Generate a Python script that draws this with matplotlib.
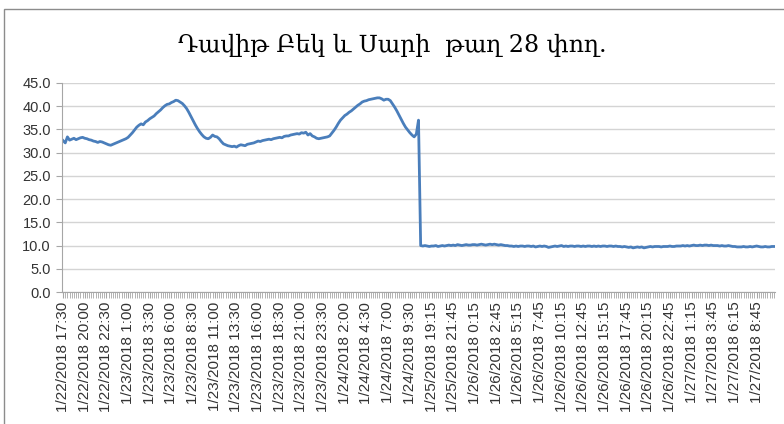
import matplotlib
matplotlib.use("Agg")
import matplotlib.pyplot as plt
from matplotlib.patches import Rectangle
import numpy as np

title = "Դավիթ Բեկ և Սարի  թաղ 28 փող."

tick_labels = [
    "1/22/2018 17:30", "1/22/2018 20:00", "1/22/2018 22:30", "1/23/2018 1:00",
    "1/23/2018 3:30", "1/23/2018 6:00", "1/23/2018 8:30", "1/23/2018 11:00",
    "1/23/2018 13:30", "1/23/2018 16:00", "1/23/2018 18:30", "1/23/2018 21:00",
    "1/23/2018 23:30", "1/24/2018 2:00", "1/24/2018 4:30", "1/24/2018 7:00",
    "1/24/2018 9:30", "1/25/2018 19:15", "1/25/2018 21:45", "1/26/2018 0:15",
    "1/26/2018 2:45", "1/26/2018 5:15", "1/26/2018 7:45", "1/26/2018 10:15",
    "1/26/2018 12:45", "1/26/2018 15:15", "1/26/2018 17:45", "1/26/2018 20:15",
    "1/26/2018 22:45", "1/27/2018 1:15", "1/27/2018 3:45", "1/27/2018 6:15",
    "1/27/2018 8:45",
]
label_every = 10

# first period (before the drop), one reading per 15 minutes
values_before = [
    32.6, 32.1, 33.4, 32.7, 32.9, 33.1, 32.8, 33.0, 33.2, 33.3,
    33.1, 33.0, 32.8, 32.7, 32.5, 32.4, 32.2, 32.4, 32.3, 32.1,
    31.9, 31.7, 31.6, 31.8, 32.0, 32.2, 32.4, 32.6, 32.8, 33.0,
    33.3, 33.8, 34.3, 34.9, 35.5, 35.9, 36.2, 36.0, 36.6, 36.9,
    37.3, 37.6, 37.9, 38.4, 38.8, 39.2, 39.7, 40.1, 40.4, 40.5,
    40.8, 41.0, 41.3, 41.2, 40.9, 40.6, 40.1, 39.5, 38.7, 37.8,
    36.9, 36.0, 35.2, 34.5, 33.9, 33.4, 33.1, 33.0, 33.3, 33.8,
    33.5, 33.4, 33.0, 32.4, 31.9, 31.7, 31.5, 31.4, 31.3, 31.4,
    31.2, 31.5, 31.7, 31.6, 31.5, 31.8, 31.9, 32.0, 32.1, 32.3,
    32.5, 32.4, 32.6, 32.7, 32.8, 32.9, 32.8, 33.0, 33.1, 33.2,
    33.3, 33.2, 33.5, 33.6, 33.6, 33.8, 33.9, 34.0, 34.1, 34.0,
    34.3, 34.2, 34.4, 33.8, 34.1, 33.6, 33.4, 33.1, 33.0, 33.1,
    33.2, 33.3, 33.4, 33.6, 34.2, 34.8, 35.5, 36.3, 37.0, 37.5,
    38.0, 38.3, 38.7, 39.0, 39.4, 39.8, 40.2, 40.5, 40.9, 41.1,
    41.2, 41.4, 41.5, 41.6, 41.7, 41.8, 41.8, 41.6, 41.3, 41.5,
    41.5, 41.2, 40.5, 39.8, 39.0, 38.1, 37.2, 36.3, 35.5, 34.9,
    34.3, 33.8, 33.4, 34.0, 37.0,
]

# second period (after the drop)
values_after = [
    10.0, 9.9, 10.0, 9.9, 9.8, 9.9, 9.9, 10.0, 9.8, 9.9,
    10.0, 9.9, 10.0, 10.1, 10.0, 10.1, 10.0, 10.2, 10.1, 10.0,
    10.1, 10.2, 10.1, 10.1, 10.2, 10.2, 10.1, 10.2, 10.3, 10.2,
    10.1, 10.2, 10.3, 10.2, 10.3, 10.2, 10.1, 10.2, 10.1, 10.0,
    10.0, 9.9, 9.9, 9.8, 9.9, 9.8, 9.9, 9.9, 9.8, 9.9,
    9.9, 9.8, 9.9, 9.7, 9.8, 9.9, 9.8, 9.9, 9.8, 9.6,
    9.7, 9.8, 9.9, 9.8, 9.9, 10.0, 9.8, 9.9, 9.8, 9.9,
    9.9, 9.8, 9.9, 9.9, 9.8, 9.9, 9.8, 9.9, 9.9, 9.8,
    9.9, 9.8, 9.9, 9.8, 9.9, 9.9, 9.8, 9.9, 9.9, 9.8,
    9.9, 9.8, 9.8, 9.7, 9.8, 9.7, 9.6, 9.7, 9.5, 9.6,
    9.7, 9.6, 9.7, 9.5, 9.6, 9.7, 9.8, 9.7, 9.8, 9.8,
    9.8, 9.7, 9.8, 9.8, 9.8, 9.9, 9.8, 9.8, 9.9, 9.9,
    9.9, 10.0, 9.9, 10.0, 9.9, 10.0, 10.1, 10.0, 10.0, 10.1,
    10.0, 10.1, 10.1, 10.0, 10.1, 10.0, 10.0, 10.0, 9.9, 10.0,
    9.9, 9.9, 10.0, 9.9, 9.8, 9.8, 9.7, 9.7, 9.7, 9.8,
    9.7, 9.7, 9.8, 9.7, 9.8, 9.9, 9.8, 9.7, 9.7, 9.8,
    9.7, 9.7, 9.8, 9.8,
]

values = values_before + values_after
x = np.arange(len(values))

fig = plt.figure(figsize=(7.84, 4.24), dpi=100)
fig.patches.append(Rectangle((4 / 784, -0.05), 1.0, 1 - 9 / 424 + 0.05,
                             transform=fig.transFigure, fill=False,
                             edgecolor="#8c8c8c", lw=1.0))

ax = fig.add_axes([62 / 784, 1 - 292 / 424, (775 - 62) / 784, (292 - 83) / 424])
ax.plot(x, values, color="#4a7ebb", lw=2.0, solid_joinstyle="round")

ax.set_ylim(0, 45)
ax.set_yticks(np.arange(0, 46, 5))
ax.set_yticklabels([f"{v:.1f}" for v in np.arange(0, 46, 5)])
ax.set_xlim(-0.5, len(values) - 0.5)
ax.set_xticks(np.arange(0, len(tick_labels) * label_every, label_every))
ax.set_xticklabels(tick_labels, rotation=90)
ax.set_xticks(x, minor=True)

ax.grid(axis="y", color="#d4d4d4", lw=1.0)
ax.set_axisbelow(True)
for s in ["top", "right"]:
    ax.spines[s].set_visible(False)
ax.spines["left"].set_color("#a6a6a6")
ax.spines["bottom"].set_color("#a6a6a6")

for lab in ax.get_xticklabels():
    lab.set_fontfamily(["Liberation Sans", "DejaVu Sans"])
    lab.set_fontsize(11)
    lab.set_color("#333333")
for lab in ax.get_yticklabels():
    lab.set_fontfamily(["Liberation Sans", "DejaVu Sans"])
    lab.set_fontsize(10.5)
    lab.set_color("#333333")
ax.tick_params(axis="x", which="both", length=4, color="#a6a6a6", pad=3)
ax.tick_params(axis="y", length=4, color="#a6a6a6", pad=4)

fig.text(392 / 784, 1 - 45 / 424, title, ha="center", va="center",
         fontsize=17, family=["DejaVu Serif", "DejaVu Sans"], color="#000000")

fig.savefig("out.png", dpi=100)
